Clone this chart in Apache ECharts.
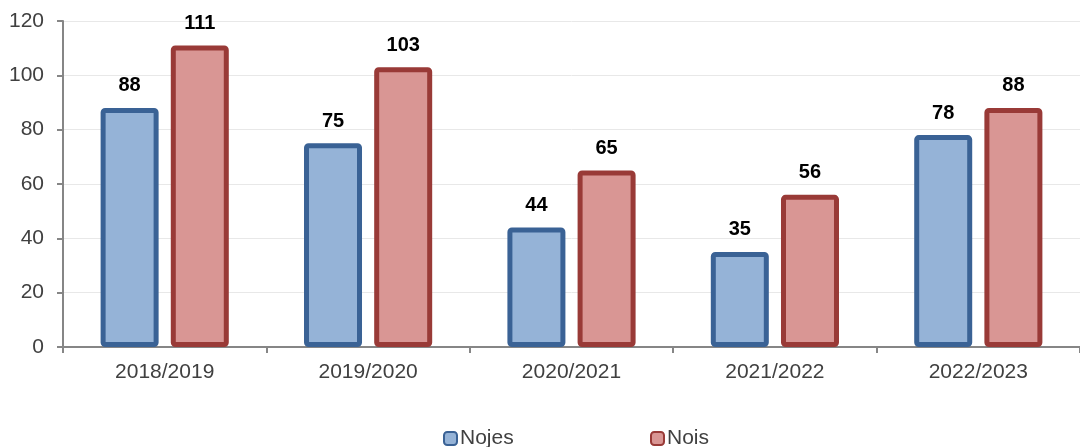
<!DOCTYPE html>
<html><head><meta charset="utf-8">
<script src="https://cdn.jsdelivr.net/npm/echarts@6/dist/echarts.min.js"></script>
<style>html,body{margin:0;padding:0;background:#fff}#c{width:1080px;height:447px}</style>
</head><body><div id="c"></div>
<script>
var categories = ['2018/2019','2019/2020','2020/2021','2021/2022','2022/2023'];
var nojes = [88, 75, 44, 35, 78];
var nois = [111, 103, 65, 56, 88];
var seriesNames = ['Nojes', 'Nois'];

var FONT = 'Liberation Sans, Arial, sans-serif';
var chart = echarts.init(document.getElementById('c'));
var labelStyle = {show:true, position:'top', distance:12, color:'#000', fontWeight:'bold', fontSize:20, fontFamily:FONT};
var legendText = {fontSize:21, color:'#404040', fontFamily:FONT, padding:[0,0,0,-2]};
chart.setOption({
  animation:false,
  grid:{left:63, right:-10, top:21, bottom:100},
  legend:[
    {left:443, bottom:-2, padding:0, itemWidth:13, itemHeight:13, textStyle:legendText, data:[seriesNames[0]]},
    {left:650, bottom:-2, padding:0, itemWidth:13, itemHeight:13, textStyle:legendText, data:[seriesNames[1]]}
  ],
  xAxis:{
    type:'category', data:categories,
    axisLine:{lineStyle:{color:'#868686', width:2}},
    axisTick:{show:true, length:6, lineStyle:{color:'#868686', width:2}},
    axisLabel:{fontSize:21, color:'#404040', margin:15, fontFamily:FONT}
  },
  yAxis:{
    type:'value', min:0, max:120, interval:20,
    axisLine:{show:true, lineStyle:{color:'#868686', width:2}},
    axisTick:{show:true, length:6, lineStyle:{color:'#868686', width:2}},
    splitLine:{lineStyle:{color:'#E8E8E8', width:1}},
    axisLabel:{fontSize:21, color:'#404040', margin:19, fontFamily:FONT}
  },
  series:[
    {name:seriesNames[0], type:'bar', data:nojes, barWidth:58, barGap:'21%',
     itemStyle:{color:'#95B3D7', borderColor:'#3A6295', borderWidth:5, borderRadius:2},
     label:labelStyle},
    {name:seriesNames[1], type:'bar', data:nois, barWidth:58,
     itemStyle:{color:'#D99694', borderColor:'#993A37', borderWidth:5, borderRadius:2},
     label:labelStyle}
  ]
});
</script></body></html>
